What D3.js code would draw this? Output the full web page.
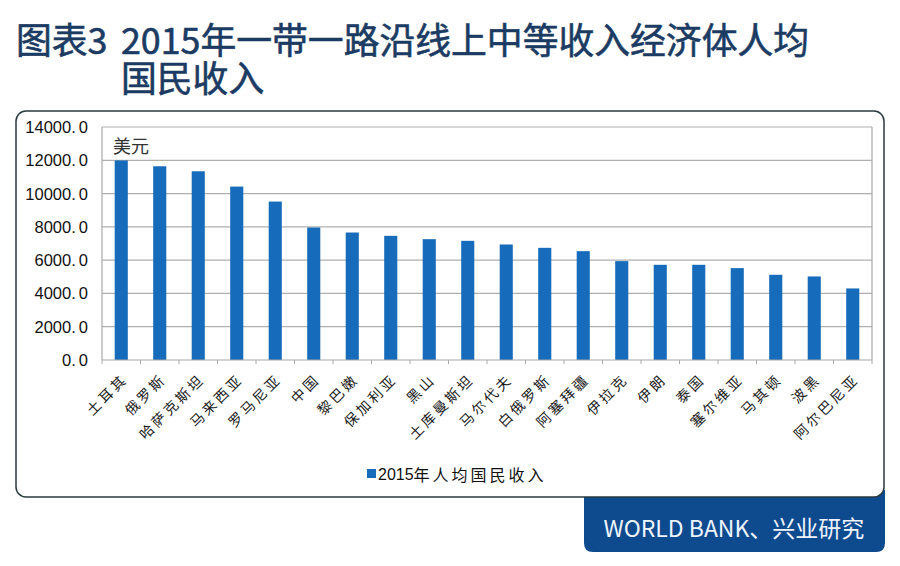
<!DOCTYPE html>
<html><head><meta charset="utf-8">
<script src="https://cdn.jsdelivr.net/npm/d3@7/dist/d3.min.js"></script>
<style>body{margin:0;background:#fff}svg{display:block}</style>
</head><body>
<svg id="c" width="900" height="566"></svg>
<script>
const categories = ["土耳其","俄罗斯","哈萨克斯坦","马来西亚","罗马尼亚","中国","黎巴嫩","保加利亚","黑山","土库曼斯坦","马尔代夫","白俄罗斯","阿塞拜疆","伊拉克","伊朗","泰国","塞尔维亚","马其顿","波黑","阿尔巴尼亚"];
const gniValues = [11990,11640,11340,10420,9520,7960,7660,7460,7260,7160,6940,6740,6540,5940,5720,5720,5520,5120,5020,4300];
const yTicks = [0,2000,4000,6000,8000,10000,12000,14000];
const seriesName = "2015年人均国民收入";
const unitLabel = "美元";
const titleLine1a = "图表3";
const titleLine1b = "2015年一带一路沿线上中等收入经济体人均";
const titleLine2 = "国民收入";
const sourceText = "WORLD BANK、兴业研究";

const svg = d3.select("#c");
const CJK = "'Noto Sans CJK SC','Noto Sans',sans-serif";
const plot = {l:102, r:872, t:127, b:360};
const titleColor = "#1b3b63";

// Title
function title(x0,y0,t){
  svg.append("text").attr("x",x0).attr("y",y0).attr("fill",titleColor)
    .attr("stroke",titleColor).attr("stroke-width",0.6)
    .style("font-family",CJK).style("font-size","35.8px").text(t);
}
title(16,54,titleLine1a);
title(121,54,titleLine1b);
title(121,92,titleLine2);

// Source box (behind outer frame)
const sx0=584, sx1=885, sy0=490, sy1=552, sr=9;
svg.append("path").attr("fill","#0e4a8e")
  .attr("d",`M${sx0},${sy0}H${sx1}V${sy1-sr}Q${sx1},${sy1} ${sx1-sr},${sy1}H${sx0+sr}Q${sx0},${sy1} ${sx0},${sy1-sr}Z`);
svg.append("text").attr("x",734).attr("y",527).attr("text-anchor","middle").attr("dominant-baseline","central")
  .attr("fill","#eef4ff").style("font-family",CJK).style("font-size","23px").text(sourceText);

// Outer frame
svg.append("rect").attr("x",16).attr("y",111).attr("width",868).attr("height",386)
  .attr("rx",10).attr("ry",10).attr("fill","#fff").attr("stroke","#2a3a3e").attr("stroke-width",1.5);

// Scales
const x = d3.scaleBand().domain(categories).range([plot.l,plot.r]).paddingInner(0.66).paddingOuter(0.33);
const y = d3.scaleLinear().domain([0,14000]).range([plot.b,plot.t]);

// Grid
svg.append("g").selectAll("line").data(yTicks.slice(1)).join("line")
  .attr("x1",plot.l).attr("x2",plot.r).attr("y1",d=>y(d)).attr("y2",d=>y(d))
  .attr("stroke","#b0b0b0").attr("stroke-width",1.2);
svg.append("line").attr("x1",plot.l).attr("x2",plot.l).attr("y1",plot.t).attr("y2",plot.b).attr("stroke","#a8a8a8").attr("stroke-width",1.2);
svg.append("line").attr("x1",plot.r).attr("x2",plot.r).attr("y1",plot.t).attr("y2",plot.b).attr("stroke","#a8a8a8").attr("stroke-width",1.2);

// Bars
svg.append("g").selectAll("rect").data(categories).join("rect")
  .attr("x",d=>x(d)).attr("width",x.bandwidth())
  .attr("y",(d,i)=>y(gniValues[i])).attr("height",(d,i)=>y(0)-y(gniValues[i]))
  .attr("fill","#166bbb");

// X axis line & ticks at band boundaries
const step = x.step();
const bounds = d3.range(categories.length+1).map(i=>plot.l+i*step);
svg.append("line").attr("x1",plot.l).attr("x2",plot.r).attr("y1",plot.b).attr("y2",plot.b).attr("stroke","#a8a8a8").attr("stroke-width",1.2);
svg.append("g").selectAll("line").data(bounds).join("line")
  .attr("x1",d=>d).attr("x2",d=>d).attr("y1",plot.b).attr("y2",plot.b+4).attr("stroke","#a8a8a8");

// Y labels
const yl = svg.append("g").selectAll("text").data(yTicks).join("text")
  .attr("x",88).attr("y",d=>y(d)).attr("text-anchor","end").attr("dominant-baseline","central")
  .style("font-family","'Liberation Sans',Arial,sans-serif").style("font-size","16.5px").attr("fill","#111");
yl.each(function(d){
  const s=d3.format(".1f")(d); const t=d3.select(this);
  t.append("tspan").text(s.slice(0,-1));
  t.append("tspan").attr("dx",3).text(s.slice(-1));
});

// Unit
svg.append("text").attr("x",113).attr("y",145).attr("dominant-baseline","central")
  .style("font-family",CJK).style("font-size","18px").attr("fill","#333").text(unitLabel);

// X labels
svg.append("g").selectAll("text").data(categories).join("text")
  .attr("transform",d=>`translate(${x(d)+x.bandwidth()/2+3},376) rotate(-45)`)
  .attr("text-anchor","end").attr("dominant-baseline","central")
  .style("font-family",CJK).style("font-size","14px").style("letter-spacing","3px")
  .attr("fill","#1a1a1a").text(d=>d);

// Legend
svg.append("rect").attr("x",367).attr("y",469).attr("width",9).attr("height",9).attr("fill","#166bbb");
const lg = svg.append("text").attr("x",378).attr("y",474).attr("dominant-baseline","central")
  .style("font-family",CJK).style("font-size","16px").attr("fill","#111");
lg.append("tspan").style("font-family","'Liberation Sans',Arial,sans-serif").text(seriesName.slice(0,4));
lg.append("tspan").style("letter-spacing","3px").text(seriesName.slice(4));
</script>
</body></html>
